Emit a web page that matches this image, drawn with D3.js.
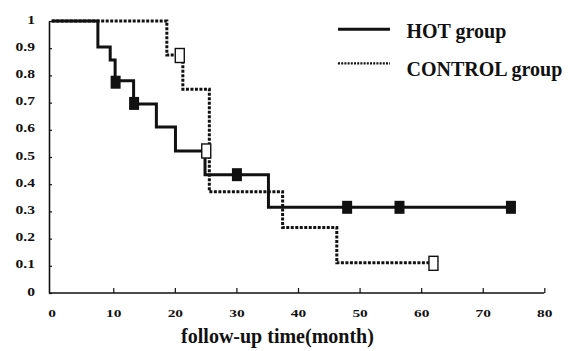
<!DOCTYPE html>
<html>
<head>
<meta charset="utf-8">
<script src="https://cdn.jsdelivr.net/npm/d3@7"></script>
<style>
  body { margin: 0; background: #fff; }
  svg text { font-family: "Liberation Serif", "Times New Roman", serif; font-weight: bold; fill: #111; }
</style>
</head>
<body>
<div id="chart"></div>
<script>
// Kaplan-Meier steps (time in months, survival)
const hotTimes = [0, 7.5, 9.5, 10.3, 13.3, 17, 20.1, 24.9, 35.2, 74.5];
const hotSurv = [1, 0.904, 0.857, 0.78, 0.695, 0.61, 0.522, 0.435, 0.315, 0.315];
const hotCensorTimes = [10.3, 13.3, 30, 47.9, 56.4, 74.5];
const hotCensorSurv = [0.775, 0.697, 0.435, 0.315, 0.315, 0.315];

const ctrlTimes = [0, 18.7, 21.3, 25.6, 37.5, 46.3, 61.3];
const ctrlSurv = [1, 0.875, 0.749, 0.372, 0.241, 0.111, 0.111];
const ctrlCensorTimes = [20.8, 25.1, 62];
const ctrlCensorSurv = [0.875, 0.524, 0.111];

const xTicks = [0, 10, 20, 30, 40, 50, 60, 70, 80];
const yTicks = [0, 0.1, 0.2, 0.3, 0.4, 0.5, 0.6, 0.7, 0.8, 0.9, 1];
const yTickLabels = ["0", "0.1", "0.2", "0.3", "0.4", "0.5", "0.6", "0.7", "0.8", "0.9", "1"];
const seriesNames = ["HOT group", "CONTROL group"];

const width = 568, height = 351;

const svg = d3.select("#chart").append("svg")
    .attr("width", width)
    .attr("height", height);

const x = d3.scaleLinear().domain([0, 80]).range([51.7, 544.3]);
const y = d3.scaleLinear().domain([0, 1]).range([293, 21]);
const axisX = 49;

// tick labels in the scan are wide and short, so they get stretched sideways
const yStretch = 1.35, xStretch = 1.4;

// y axis, ticks pointing inward
const yAxis = svg.append("g")
    .attr("transform", "translate(" + axisX + ",0)")
    .call(d3.axisLeft(y)
        .tickValues(yTicks)
        .tickFormat((d, i) => yTickLabels[i])
        .tickSizeInner(-3)
        .tickSizeOuter(0)
        .tickPadding(14))
    .attr("font-size", 11.5)
    .attr("font-family", null);
yAxis.select(".domain").attr("stroke", "#111").attr("stroke-width", 1.6);
yAxis.selectAll(".tick line").attr("stroke", "#111").attr("stroke-width", 1.2);
yAxis.selectAll(".tick text")
    .attr("x", -14 / yStretch)
    .attr("dy", "0.18em")
    .attr("transform", "scale(" + yStretch + ",1)");

// x axis, ticks pointing up
const xAxis = svg.append("g")
    .attr("transform", "translate(0," + y(0) + ")")
    .call(d3.axisBottom(x)
        .tickValues(xTicks)
        .tickSizeInner(-5)
        .tickSizeOuter(0)
        .tickPadding(16))
    .attr("font-size", 11)
    .attr("font-family", null);
xAxis.select(".domain").remove();
xAxis.append("line")
    .attr("x1", axisX)
    .attr("x2", x(80))
    .attr("stroke", "#111")
    .attr("stroke-width", 1.6);
xAxis.selectAll(".tick line").attr("stroke", "#111").attr("stroke-width", 1.2);
xAxis.selectAll(".tick").filter(d => d === 0).select("line").remove();
xAxis.selectAll(".tick text").attr("transform", "scale(" + xStretch + ",1)");

svg.append("text")
    .attr("x", 277.5)
    .attr("y", 343)
    .attr("text-anchor", "middle")
    .attr("font-size", 20)
    .text("follow-up time(month)");

// step curves
const step = d3.line()
    .x(d => x(d[0]))
    .y(d => y(d[1]))
    .curve(d3.curveStepAfter);

const styles = [
    {stroke: "#111", width: 3, dash: null},
    {stroke: "#111", width: 3, dash: "3,1.5"}
];

svg.append("path")
    .datum(ctrlTimes.map((t, i) => [t, ctrlSurv[i]]))
    .attr("d", step)
    .attr("fill", "none")
    .attr("stroke", styles[1].stroke)
    .attr("stroke-width", styles[1].width)
    .attr("stroke-dasharray", styles[1].dash);

svg.append("path")
    .datum(hotTimes.map((t, i) => [t, hotSurv[i]]))
    .attr("d", step)
    .attr("fill", "none")
    .attr("stroke", styles[0].stroke)
    .attr("stroke-width", styles[0].width);

// censor marks
const boxW = 9, boxH = 13;
svg.selectAll(".hot-censor")
    .data(hotCensorTimes.map((t, i) => [t, hotCensorSurv[i]]))
    .join("rect")
    .attr("class", "hot-censor")
    .attr("x", d => x(d[0]) - boxW / 2)
    .attr("y", d => y(d[1]) - boxH / 2)
    .attr("width", boxW + 1)
    .attr("height", boxH)
    .attr("fill", "#111");

svg.selectAll(".ctrl-censor")
    .data(ctrlCensorTimes.map((t, i) => [t, ctrlCensorSurv[i]]))
    .join("rect")
    .attr("class", "ctrl-censor")
    .attr("x", d => x(d[0]) - boxW / 2)
    .attr("y", d => y(d[1]) - boxH / 2)
    .attr("width", boxW)
    .attr("height", boxH + 1)
    .attr("fill", "#fff")
    .attr("stroke", "#111")
    .attr("stroke-width", 1.4);

// legend
const legend = svg.append("g");
seriesNames.forEach((name, i) => {
    const ly = 29.3 + i * 34;
    legend.append("line")
        .attr("x1", 338)
        .attr("x2", 390)
        .attr("y1", ly)
        .attr("y2", ly)
        .attr("stroke", styles[i].stroke)
        .attr("stroke-width", i === 0 ? 3 : 2.2)
        .attr("stroke-dasharray", i === 0 ? null : "2,1.2");
    legend.append("text")
        .attr("x", 406.5)
        .attr("y", ly + 8.7 + i * 4)
        .attr("font-size", 20)
        .text(name);
});
</script>
</body>
</html>
